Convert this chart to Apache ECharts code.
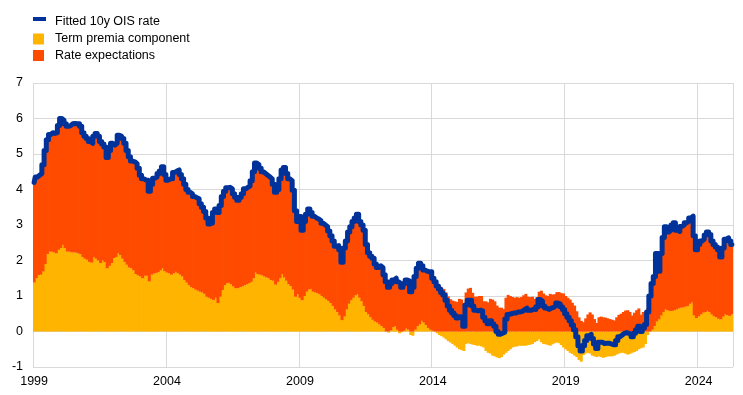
<!DOCTYPE html>
<html>
<head>
<meta charset="utf-8">
<script src="https://cdn.jsdelivr.net/npm/echarts@6/dist/echarts.min.js"></script>
<style>
html,body{margin:0;padding:0;background:#fff;}
#chart{width:743px;height:395px;}
</style>
</head>
<body>
<div id="chart"></div>
<script>
// Monthly observations, starting January 1999
const startYear = 1999;
const seriesNames = ['Fitted 10y OIS rate', 'Term premia component', 'Rate expectations'];
const labelYears = [1999, 2004, 2009, 2014, 2019, 2024];

const oisRate = [
  4.2, 4.35, 4.4, 4.45, 4.7, 5.1, 5.4, 5.55, 5.6, 5.58, 5.6, 5.8,
  6.0, 5.95, 5.85, 5.78, 5.8, 5.85, 5.86, 5.85, 5.85, 5.78, 5.6, 5.5,
  5.44, 5.35, 5.3, 5.5, 5.58, 5.5, 5.35, 5.28, 5.2, 4.9, 5.1, 5.3,
  5.25, 5.3, 5.53, 5.5, 5.44, 5.3, 5.1, 4.92, 4.8, 4.78, 4.73, 4.6,
  4.4, 4.3, 4.27, 4.26, 3.95, 4.15, 4.32, 4.35, 4.45, 4.52, 4.64, 4.42,
  4.26, 4.3, 4.3, 4.48, 4.52, 4.55, 4.42, 4.3, 4.15, 4.0, 3.92, 3.88,
  3.8, 3.77, 3.74, 3.6, 3.5, 3.38, 3.2, 3.03, 3.05, 3.35, 3.45, 3.35,
  3.55, 3.8, 3.95, 4.05, 4.06, 4.02, 3.88, 3.78, 3.7, 3.78, 3.88, 4.02,
  4.06, 4.1, 4.25, 4.5, 4.75, 4.7, 4.6, 4.5, 4.45, 4.4, 4.35, 4.3,
  4.15, 3.92, 4.0, 4.3, 4.55, 4.62, 4.45, 4.3, 4.25, 3.98, 3.4, 3.1,
  3.24, 2.85, 3.1, 3.3, 3.45, 3.35, 3.25, 3.2, 3.17, 3.12, 3.05, 3.0,
  2.95, 2.83, 2.7, 2.55, 2.4, 2.42, 2.3, 1.95, 2.35, 2.55, 2.8, 2.95,
  3.1, 3.2, 3.3, 3.1, 3.0, 2.85, 2.45, 2.22, 2.12, 2.06, 1.9, 1.8,
  1.85, 1.8, 1.6, 1.4, 1.25, 1.35, 1.45, 1.5, 1.4, 1.35, 1.25, 1.35,
  1.45, 1.42, 1.12, 1.25, 1.55, 1.78, 1.92, 1.85, 1.73, 1.7, 1.68, 1.68,
  1.5, 1.4, 1.28, 1.2, 1.1, 1.03, 0.88, 0.72, 0.6, 0.52, 0.45, 0.38,
  0.42, 0.38, 0.15, 0.75, 0.88, 0.88, 0.72, 0.6, 0.58, 0.6, 0.58, 0.4,
  0.3, 0.22, 0.3, 0.22, 0.15, 0.0, -0.08, -0.05, -0.02, 0.35, 0.48, 0.5,
  0.52, 0.52, 0.55, 0.55, 0.57, 0.62, 0.66, 0.6, 0.6, 0.63, 0.62, 0.7,
  0.9, 0.85, 0.72, 0.66, 0.62, 0.66, 0.68, 0.72, 0.8, 0.78, 0.7, 0.62,
  0.5, 0.4, 0.3, 0.18, 0.05, -0.15, -0.4, -0.55, -0.4, -0.25, -0.12, -0.08,
  -0.2, -0.35, -0.48, -0.3, -0.3, -0.34, -0.33, -0.33, -0.35, -0.37, -0.37, -0.25,
  -0.15, -0.1, -0.05, -0.03, -0.05, -0.08, -0.15, -0.05, 0.05, 0.15, 0.0, 0.1,
  0.2, 0.55, 1.0, 1.35, 1.55, 2.2, 1.7, 2.2, 2.65, 2.95, 2.8, 2.85,
  3.0, 3.06, 2.85, 2.82, 2.96, 3.0, 3.06, 3.1, 3.2, 3.25, 2.7, 2.3,
  2.45, 2.55, 2.6, 2.72, 2.8, 2.73, 2.55, 2.45, 2.38, 2.3, 2.1, 2.35,
  2.6, 2.64, 2.55, 2.45
];

const termPremia = [
  1.38, 1.5, 1.59, 1.6, 1.69, 1.9, 2.18, 2.25, 2.25, 2.23, 2.2, 2.3,
  2.35, 2.44, 2.35, 2.25, 2.25, 2.23, 2.23, 2.22, 2.2, 2.18, 2.1, 2.05,
  2.02, 1.96, 1.94, 2.1, 2.05, 2.0, 1.93, 2.0, 1.95, 1.78, 1.85, 1.93,
  2.07, 2.1, 2.2, 2.15, 2.05, 1.96, 1.88, 1.8, 1.78, 1.72, 1.62, 1.58,
  1.55, 1.5, 1.57, 1.57, 1.41, 1.6, 1.63, 1.65, 1.67, 1.72, 1.78, 1.7,
  1.66, 1.64, 1.6, 1.64, 1.68, 1.64, 1.6, 1.55, 1.45, 1.38, 1.31, 1.25,
  1.22, 1.18, 1.15, 1.12, 1.1, 1.06, 0.98, 0.95, 0.92, 0.89, 0.95, 0.8,
  0.98, 1.17, 1.3, 1.36, 1.37, 1.33, 1.27, 1.22, 1.22, 1.25, 1.27, 1.3,
  1.33, 1.36, 1.4, 1.5, 1.66, 1.62, 1.6, 1.58, 1.55, 1.52, 1.5, 1.45,
  1.43, 1.32, 1.4, 1.5, 1.62, 1.52, 1.43, 1.33, 1.28, 1.18, 0.98, 1.05,
  0.95, 0.88, 1.0, 1.12, 1.18, 1.2, 1.12, 1.1, 1.08, 1.05, 1.0, 0.95,
  0.9, 0.86, 0.8, 0.72, 0.62, 0.55, 0.45, 0.32, 0.42, 0.62, 0.78, 0.88,
  0.95, 1.02, 1.05, 0.95, 0.85, 0.72, 0.55, 0.48, 0.4, 0.33, 0.28, 0.25,
  0.2, 0.15, 0.1, 0.0, -0.03, 0.03, 0.12, 0.15, 0.05, -0.05, -0.02, 0.02,
  0.08, 0.05, -0.1, -0.12, 0.05, 0.15, 0.2, 0.3, 0.25, 0.18, 0.1, 0.05,
  0.02, 0.0, -0.05, -0.1, -0.13, -0.17, -0.22, -0.27, -0.31, -0.35, -0.4, -0.45,
  -0.5, -0.52, -0.55, -0.35, -0.33, -0.35, -0.37, -0.38, -0.4, -0.4, -0.42, -0.45,
  -0.55, -0.6, -0.62, -0.68, -0.7, -0.73, -0.75, -0.72, -0.65, -0.6, -0.55, -0.5,
  -0.45, -0.43, -0.42, -0.4, -0.4, -0.4, -0.4, -0.38, -0.37, -0.35, -0.3, -0.27,
  -0.22, -0.3, -0.35, -0.36, -0.38, -0.4, -0.36, -0.33, -0.31, -0.33, -0.38, -0.45,
  -0.5, -0.55, -0.6, -0.63, -0.68, -0.72, -0.8, -0.85, -0.66, -0.62, -0.6, -0.62,
  -0.68, -0.7, -0.72, -0.7, -0.72, -0.74, -0.72, -0.7, -0.7, -0.7, -0.68, -0.65,
  -0.62, -0.6, -0.6, -0.62, -0.65, -0.63, -0.6, -0.58, -0.55, -0.5, -0.47, -0.45,
  -0.35, -0.1, 0.0, 0.05, 0.15, 0.28, 0.34, 0.45, 0.55, 0.62, 0.6, 0.58,
  0.58, 0.6, 0.62, 0.65, 0.67, 0.68, 0.7, 0.72, 0.78, 0.82, 0.45, 0.38,
  0.43, 0.48, 0.53, 0.55, 0.58, 0.55, 0.48, 0.43, 0.4, 0.36, 0.34, 0.42,
  0.48, 0.46, 0.44, 0.48
];

// Category per month: "YYYY-MM"
const months = oisRate.map((_, i) => {
  const y = startYear + Math.floor(i / 12), m = i % 12 + 1;
  return y + '-' + (m < 10 ? '0' + m : m);
});
const rateExpectations = oisRate.map((v, i) => +(v - termPremia[i]).toFixed(3));

const isLabelMonth = (idx) => {
  const y = startYear + Math.floor(idx / 12);
  return idx % 12 === 0 && labelYears.indexOf(y) >= 0;
};

const FONT = '"Liberation Sans", Arial, sans-serif';
const BLUE = '#003299', YELLOW = '#FFB400', RED = '#FF4B00';
const legendText = {fontFamily: FONT, fontSize: 12.5, color: '#000', padding: [0, 0, 0, 5]};

const chart = echarts.init(document.getElementById('chart'), null, {renderer: 'canvas'});
chart.setOption({
  animation: false,
  backgroundColor: '#fff',
  textStyle: {fontFamily: FONT},
  legend: [
    {
      data: [seriesNames[0]], left: 33, top: 15.5, padding: 0,
      icon: 'path://M0,0H13V4H0Z M0,10H0.01V10.01H0Z', itemWidth: 13, itemHeight: 11,
      itemStyle: {color: BLUE}, lineStyle: {width: 0},
      textStyle: Object.assign({}, legendText, {padding: [0, 0, 0, 4]})
    },
    {
      data: [seriesNames[1]], left: 33, top: 32.5, padding: 0,
      icon: 'rect', itemWidth: 11, itemHeight: 11,
      textStyle: Object.assign({}, legendText, {padding: [0, 0, 0, 6]})
    },
    {
      data: [seriesNames[2]], left: 33, top: 49, padding: 0,
      icon: 'rect', itemWidth: 11, itemHeight: 11,
      textStyle: Object.assign({}, legendText, {padding: [0, 0, 0, 6]})
    }
  ],
  grid: {left: 33, right: 10, top: 83, bottom: 28, containLabel: false},
  xAxis: {
    type: 'category', data: months, boundaryGap: true,
    axisLine: {show: false}, axisTick: {show: false},
    splitLine: {show: true, interval: (idx) => isLabelMonth(idx), lineStyle: {color: '#d9d9d9', width: 1}},
    axisLabel: {
      fontFamily: FONT, fontSize: 12.5, color: '#000', margin: 8,
      interval: (idx) => isLabelMonth(idx),
      formatter: v => v.slice(0, 4)
    }
  },
  yAxis: {
    type: 'value', min: -1, max: 7, interval: 1,
    axisLine: {show: false}, axisTick: {show: false},
    splitLine: {show: true, lineStyle: {color: '#d9d9d9', width: 1}},
    axisLabel: {fontFamily: FONT, fontSize: 12.5, color: '#000', margin: 10}
  },
  series: [
    {
      name: seriesNames[1], type: 'bar', stack: 'ois', data: termPremia,
      barWidth: 3, itemStyle: {color: YELLOW}, z: 2
    },
    {
      name: seriesNames[2], type: 'bar', stack: 'ois', data: rateExpectations,
      barWidth: 3, itemStyle: {color: RED}, z: 2
    },
    {
      name: seriesNames[0], type: 'line', data: oisRate, step: 'middle',
      showSymbol: false, symbol: 'none',
      lineStyle: {color: BLUE, width: 5, join: 'round', cap: 'round'},
      itemStyle: {color: BLUE}, z: 5
    }
  ]
});
</script>
</body>
</html>
